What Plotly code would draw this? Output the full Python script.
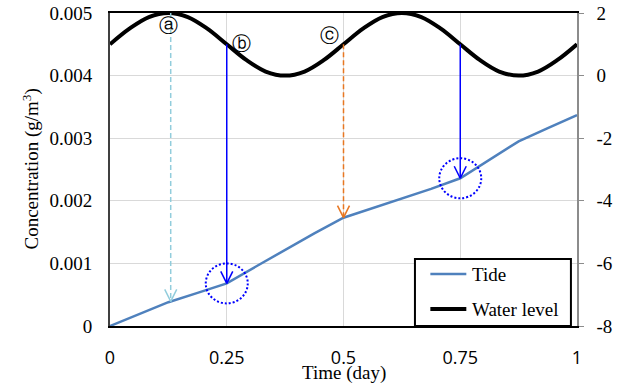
import numpy as np
import plotly.graph_objects as go

# Tide-driven concentration (left axis, g/m3)
tide_t = [0, 0.0625, 0.125, 0.1875, 0.25, 0.3125, 0.375, 0.4375, 0.5,
          0.5625, 0.625, 0.6875, 0.75, 0.8125, 0.875, 0.9375, 1.0]
tide_conc = [0, 0.00019, 0.00038, 0.00053, 0.00068, 0.00095, 0.00122, 0.00148,
             0.00173, 0.00188, 0.00204, 0.00219, 0.00236, 0.00266, 0.00295,
             0.00316, 0.00337]

# Water level (right axis)
level_t = [i / 24 for i in range(25)]
level_val = [1, 1.5, 1.87, 2, 1.87, 1.5, 1, 0.5, 0.13, 0, 0.13, 0.5,
             1, 1.5, 1.87, 2, 1.87, 1.5, 1, 0.5, 0.13, 0, 0.13, 0.5, 1]

# Moments marked with arrows: time, water level at the arrow tail
mark_t = [0.13, 0.25, 0.5, 0.75]
mark_level = [2, 1, 1, 1]
mark_color = ["#92CDDC", "#0000FF", "#E87722", "#0000FF"]
mark_dash = ["5px,3px", "solid", "5px,3px", "solid"]
mark_label = ["ⓐ", "ⓑ", "ⓒ", None]
circled_t = [0.25, 0.75]

x_ticks = [0, 0.25, 0.5, 0.75, 1]
x_ticktext = ["0", "0.25", "0.5", "0.75", "1"]
y_ticks = [0, 0.001, 0.002, 0.003, 0.004, 0.005]
y_ticktext = ["0", "0.001", "0.002", "0.003", "0.004", "0.005"]
y2_ticks = [-8, -6, -4, -2, 0, 2]
y2_ticktext = ["-8", "-6", "-4", "-2", "0", "2"]

y_range = [0, 0.005]
y2_range = [-8, 2]

series_names = ["Tide", "Water level"]
series_colors = ["#4F81BD", "black"]
series_widths = [2.5, 4]


def level_to_conc(v):
    return y_range[0] + (v - y2_range[0]) / (y2_range[1] - y2_range[0]) * (y_range[1] - y_range[0])


SERIF = "Liberation Serif, Times New Roman, serif"

fig = go.Figure()
fig.add_trace(go.Scatter(
    x=tide_t, y=tide_conc, mode="lines", name=series_names[0], showlegend=False,
    line=dict(color=series_colors[0], width=series_widths[0]),
))
fig.add_trace(go.Scatter(
    x=level_t, y=level_val, mode="lines", name=series_names[1], yaxis="y2", showlegend=False,
    line=dict(color=series_colors[1], width=series_widths[1], shape="spline", smoothing=1.0),
))

shapes = []
annotations = []
for t, lv, col, dash in zip(mark_t, mark_level, mark_color, mark_dash):
    tip = float(np.interp(t, tide_t, tide_conc))
    top = level_to_conc(lv)
    shapes.append(dict(type="line", xref="x", yref="y", x0=t, x1=t, y0=top, y1=tip,
                       line=dict(color=col, width=1.5, dash=dash), layer="above"))
    for side in (-6, 6):
        shapes.append(dict(type="line", xref="x", yref="y",
                           xsizemode="pixel", xanchor=t, x0=side, x1=0,
                           ysizemode="pixel", yanchor=tip, y0=12, y1=0,
                           line=dict(color=col, width=1.5), layer="above"))

for t in circled_t:
    c = float(np.interp(t, tide_t, tide_conc))
    shapes.append(dict(type="circle", xref="x", yref="y",
                       xsizemode="pixel", xanchor=t, x0=-21, x1=21,
                       ysizemode="pixel", yanchor=c, y0=-20, y1=20,
                       line=dict(color="#0000FF", width=2, dash="2px,2px"), layer="above"))

# Circled letters near the water-level curve
label_pos = [(0.126, 0.00481), (0.282, 0.00452), (0.469, 0.00465)]
for lab, (lx, ly) in zip([l for l in mark_label if l], label_pos):
    annotations.append(dict(x=lx, y=ly, xref="x", yref="y", text=lab, showarrow=False,
                            xanchor="center", yanchor="middle",
                            font=dict(family="DejaVu Sans", size=19, color="black")))

# Axis titles
annotations.append(dict(x=0, y=0.5, xref="paper", yref="paper", xshift=-79,
                        xanchor="center", yanchor="middle",
                        text="Concentration (g/m<sup>3</sup>)", textangle=-90, showarrow=False,
                        font=dict(family=SERIF, size=19, color="black")))
annotations.append(dict(x=0.5, y=0, xref="paper", yref="paper", yshift=-47,
                        xanchor="center", yanchor="middle",
                        text="Time (day)", showarrow=False,
                        font=dict(family=SERIF, size=19, color="black")))

# Legend box with line samples
leg_x0, leg_x1, leg_y0, leg_y1 = 0.653, 0.987, 0.0, 0.214
shapes.append(dict(type="rect", xref="paper", yref="paper",
                   x0=leg_x0, x1=leg_x1, y0=leg_y0, y1=leg_y1,
                   fillcolor="white", line=dict(color="black", width=2), layer="above"))
for name, col, w, yy in zip(series_names, series_colors, series_widths, [0.166, 0.054]):
    shapes.append(dict(type="line", xref="paper", yref="paper",
                       x0=0.686, x1=0.763, y0=yy, y1=yy,
                       line=dict(color=col, width=w), layer="above"))
    annotations.append(dict(x=0.771, y=yy, xref="paper", yref="paper", text=name,
                            xanchor="left", yanchor="middle", showarrow=False,
                            font=dict(family=SERIF, size=19, color="black")))

fig.update_layout(
    width=624, height=387,
    margin=dict(l=110, r=47, t=13, b=61),
    paper_bgcolor="white", plot_bgcolor="white",
    shapes=shapes, annotations=annotations, showlegend=False,
    xaxis=dict(range=[0, 1], tickvals=x_ticks, ticktext=x_ticktext,
               showgrid=True, gridcolor="#D9D9D9", gridwidth=1,
               showline=True, linecolor="black", linewidth=2, mirror=True,
               ticks="", ticklabelstandoff=14, zeroline=False, automargin=False,
               tickfont=dict(family="Open Sans", size=18, color="black")),
    yaxis=dict(range=y_range, tickvals=y_ticks, ticktext=y_ticktext,
               showgrid=True, gridcolor="#D9D9D9", gridwidth=1,
               showline=True, linecolor="#404040", linewidth=2,
               ticks="", ticklabelstandoff=12, zeroline=False, automargin=False,
               tickfont=dict(family=SERIF, size=19, color="black")),
    yaxis2=dict(range=y2_range, tickvals=y2_ticks, ticktext=y2_ticktext,
                overlaying="y", side="right",
                showgrid=False, showline=True, linecolor="#8C8C8C", linewidth=1.5,
                ticks="outside", ticklen=5, tickcolor="#8C8C8C", ticklabelstandoff=9,
                zeroline=False, automargin=False,
                tickfont=dict(family=SERIF, size=19, color="black")),
)

fig.write_html("out.html")
